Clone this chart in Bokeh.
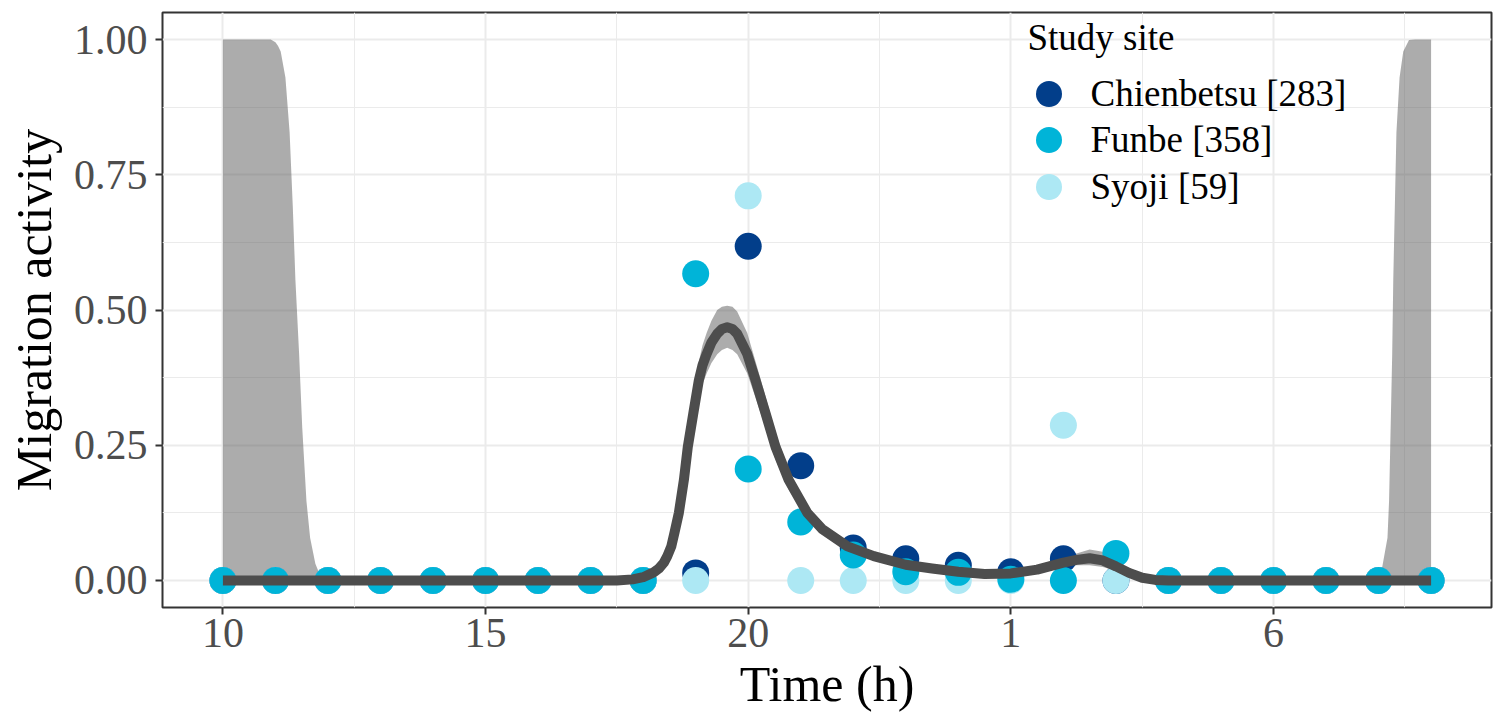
from bokeh.plotting import figure
from bokeh.models import FixedTicker, Legend, LegendItem, Range1d, NumeralTickFormatter, Label
from bokeh.embed import file_html
from bokeh.resources import INLINE

FONT = "Liberation Serif"

# ---- data ----
hours = list(range(10, 34))
chienbetsu = [0, 0, 0, 0, 0, 0, 0, 0, 0,
              0.014, 0.618, 0.212, 0.060, 0.040, 0.028, 0.016, 0.040, 0,
              0, 0, 0, 0, 0, 0]
funbe = [0, 0, 0, 0, 0, 0, 0, 0, 0,
         0.567, 0.206, 0.108, 0.047, 0.016, 0.015, 0.002, 0, 0.050,
         0, 0, 0, 0, 0, 0]
syoji = [0, 0, 0, 0, 0, 0, 0, 0, 0,
         0, 0.711, 0, 0, 0, 0, 0, 0.287, 0,
         0, 0, 0, 0, 0, 0]

site_names = ["Chienbetsu [283]", "Funbe [358]", "Syoji [59]"]
site_colors = ["#023E8A", "#00B4D8", "#ADE8F4"]
legend_title = "Study site"

# smoothed fit (hours, fitted value, lower / upper confidence limit)
fit_x = [10, 10.91, 11.0, 11.05, 11.1, 11.19, 11.27, 11.33, 11.38, 11.45,
         11.51, 11.59, 11.66, 11.76, 11.89,
         12, 13, 14, 15, 16, 17,
         17.5, 17.8, 18.0, 18.2, 18.3, 18.395, 18.46, 18.536, 18.6, 18.68,
         18.776, 18.85, 18.955, 19.06, 19.13, 19.21, 19.3, 19.41, 19.5, 19.60,
         19.7, 19.79, 19.98, 20.14, 20.33, 20.52, 20.77,
         21.125, 21.41, 21.89, 22.39, 23.0, 23.5, 24.0,
         24.5, 25.0, 25.5, 26.0, 26.25, 26.5, 26.75, 27.0, 27.25, 27.5, 27.75,
         28.0, 29, 30, 31, 31.9,
         32.0, 32.07, 32.17, 32.2, 32.23, 32.26, 32.28, 32.31, 32.34, 32.4,
         32.47, 32.58, 32.7, 33.0]
fit_y = [0, 0, 0, 0, 0, 0, 0, 0, 0, 0,
         0, 0, 0, 0, 0,
         0, 0, 0, 0, 0, 0,
         0, 0.002, 0.006, 0.015, 0.022, 0.033, 0.045, 0.063, 0.090, 0.125,
         0.186, 0.247, 0.309, 0.370, 0.398, 0.419, 0.440, 0.456, 0.465, 0.468,
         0.465, 0.456, 0.419, 0.370, 0.309, 0.247, 0.186,
         0.125, 0.095, 0.063, 0.045, 0.029, 0.022, 0.016,
         0.012, 0.013, 0.020, 0.033, 0.038, 0.041, 0.037, 0.026, 0.014, 0.005, 0.001,
         0, 0, 0, 0, 0,
         0, 0, 0, 0, 0, 0, 0, 0, 0, 0,
         0, 0, 0, 0]
fit_upper = [1.0, 1.0, 0.995, 0.988, 0.978, 0.93, 0.828, 0.692, 0.556, 0.42,
             0.283, 0.147, 0.079, 0.031, 0.0,
             0, 0, 0, 0, 0, 0,
             0, 0.003, 0.009, 0.021, 0.030, 0.043, 0.057, 0.078, 0.107, 0.145,
             0.210, 0.275, 0.340, 0.405, 0.435, 0.458, 0.480, 0.500, 0.506, 0.508,
             0.506, 0.497, 0.458, 0.405, 0.340, 0.273, 0.205,
             0.137, 0.104, 0.069, 0.049, 0.032, 0.025, 0.019,
             0.015, 0.016, 0.025, 0.042, 0.050, 0.057, 0.053, 0.036, 0.020, 0.008, 0.002,
             0, 0, 0, 0, 0,
             0.002, 0.025, 0.079, 0.147, 0.283, 0.42, 0.556, 0.692, 0.828, 0.93,
             0.978, 0.999, 1.0, 1.0]
fit_lower = [0, 0, 0, 0, 0, 0, 0, 0, 0, 0,
             0, 0, 0, 0, 0,
             0, 0, 0, 0, 0, 0,
             0, 0.001, 0.004, 0.011, 0.016, 0.025, 0.035, 0.051, 0.075, 0.108,
             0.165, 0.222, 0.282, 0.338, 0.363, 0.383, 0.402, 0.418, 0.426, 0.430,
             0.426, 0.418, 0.383, 0.338, 0.282, 0.223, 0.168,
             0.113, 0.086, 0.057, 0.041, 0.026, 0.019, 0.013,
             0.009, 0.010, 0.016, 0.026, 0.028, 0.028, 0.025, 0.018, 0.009, 0.003, 0,
             0, 0, 0, 0, 0,
             0, 0, 0, 0, 0, 0, 0, 0, 0, 0,
             0, 0, 0, 0]

x_ticks = [10, 15, 20, 25, 30]
x_tick_labels = ["10", "15", "20", "1", "6"]
x_minor = [12.5, 17.5, 22.5, 27.5, 32.5]
y_ticks = [0, 0.25, 0.5, 0.75, 1.0]
y_minor = [0.125, 0.375, 0.625, 0.875]

p = figure(width=1498, height=718,
           x_range=Range1d(8.85, 34.15), y_range=Range1d(-0.05, 1.05),
           output_backend="svg", toolbar_location=None,
           min_border_left=162, min_border_right=7,
           min_border_top=12, min_border_bottom=111)

p.background_fill_color = "white"
p.border_fill_color = "white"
p.outline_line_color = "#333333"
p.outline_line_width = 2

p.xaxis.ticker = FixedTicker(ticks=x_ticks, minor_ticks=x_minor)
p.yaxis.ticker = FixedTicker(ticks=y_ticks, minor_ticks=y_minor)
p.xaxis.major_label_overrides = dict(zip(x_ticks, x_tick_labels))
p.yaxis.formatter = NumeralTickFormatter(format="0.00")

for g in (p.xgrid, p.ygrid):
    g.grid_line_color = "#EBEBEB"
    g.grid_line_width = 2
    g.minor_grid_line_color = "#EBEBEB"
    g.minor_grid_line_width = 1

for ax in (p.xaxis, p.yaxis):
    ax.axis_line_color = None
    ax.major_tick_line_color = "#333333"
    ax.major_tick_line_width = 2
    ax.major_tick_out = 7
    ax.major_tick_in = 0
    ax.minor_tick_line_color = None
    ax.major_label_text_font = FONT
    ax.major_label_text_font_size = "42px"
    ax.major_label_text_color = "#4D4D4D"
    ax.axis_label_text_font = FONT
    ax.axis_label_text_font_size = "50px"
    ax.axis_label_text_font_style = "normal"
    ax.axis_label_text_color = "black"

p.xaxis.axis_label = "Time (h)"
p.yaxis.axis_label = "Migration activity"
p.xaxis.major_label_standoff = 4
p.xaxis.axis_label_standoff = 6
p.yaxis.major_label_standoff = 8
p.yaxis.axis_label_standoff = 9

# confidence band
p.varea(x=fit_x, y1=fit_lower, y2=fit_upper, fill_color="#5A5A5A", fill_alpha=0.5)

# points (drawing order: Chienbetsu, Syoji, Funbe)
r_ch = p.scatter(hours, chienbetsu, size=27, fill_color=site_colors[0], line_color=None)
r_sy = p.scatter(hours, syoji, size=27, fill_color=site_colors[2], line_color=None)
r_fu = p.scatter(hours, funbe, size=27, fill_color=site_colors[1], line_color=None)

# fitted line
p.line(fit_x, fit_y, line_color="#4D4D4D", line_width=10, line_join="round")

# legend: one box per entry so that the rows can sit closer than the key size
title = Label(x=865, y=570, x_units="screen", y_units="screen", text=legend_title,
              text_font=FONT, text_font_size="37px", text_color="black",
              text_baseline="alphabetic", text_align="left")
p.add_layout(title)

renderers = [r_ch, r_fu, r_sy]
legend_y = [481.5, 435, 388.5]
for name, rend, ly in zip(site_names, renderers, legend_y):
    lg = Legend(items=[LegendItem(label=name, renderers=[rend])], location=(853.5, ly))
    lg.label_text_font = FONT
    lg.label_text_font_size = "37px"
    lg.label_text_color = "black"
    lg.glyph_width = 65
    lg.glyph_height = 65
    lg.label_standoff = 10
    lg.padding = 0
    lg.margin = 0
    lg.border_line_color = None
    lg.background_fill_alpha = 0
    p.add_layout(lg)

open("out.html", "w").write(file_html(p, INLINE))
